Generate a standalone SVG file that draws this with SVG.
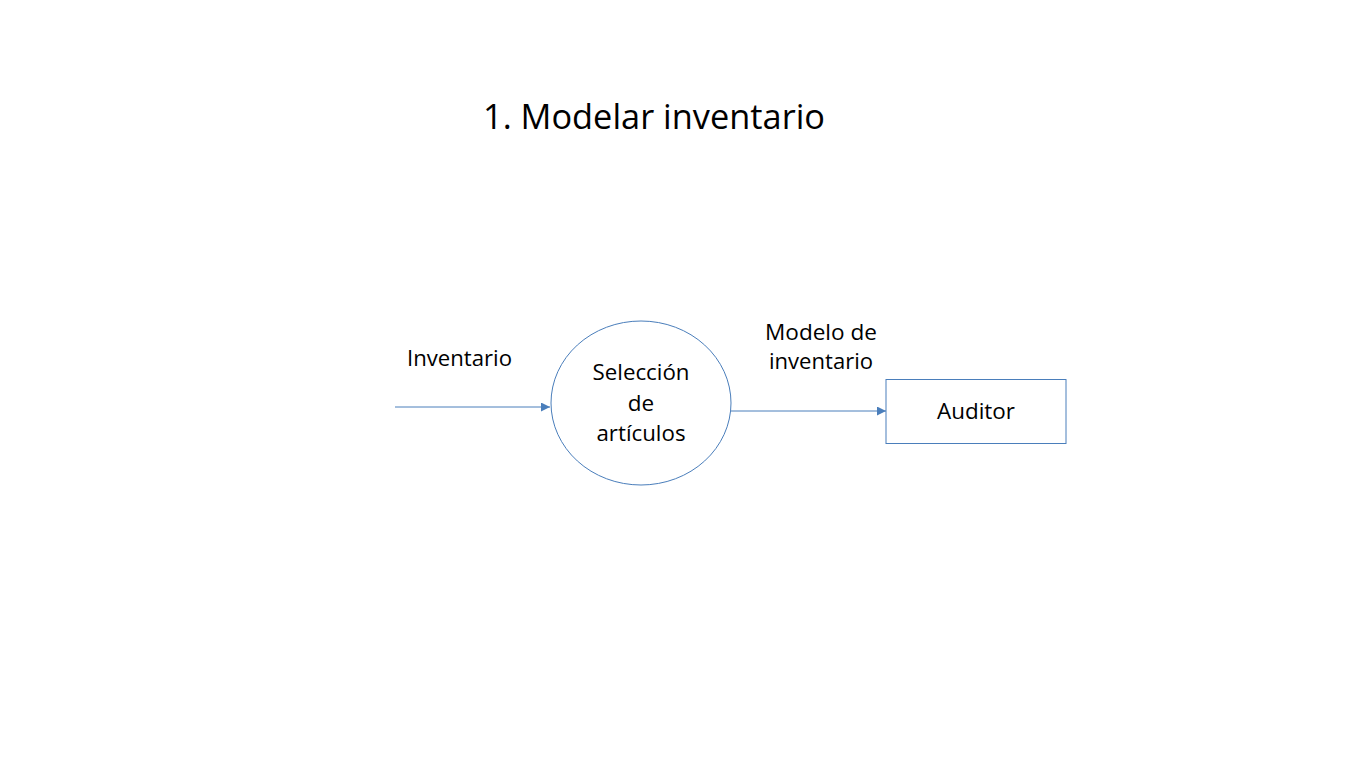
<svg xmlns="http://www.w3.org/2000/svg" width="1366" height="768" viewBox="0 0 1366 768">
<style>
text{font-family:"Open Sans","Liberation Sans",sans-serif;fill:#000}
.l{font-size:22.5px}
.c{text-anchor:middle}
.shape{fill:#fff;stroke:#4a7ebb;stroke-width:1}
.edge{stroke:#4a7ebb;stroke-width:1;fill:none}
</style>
<defs>
<marker id="ah" viewBox="0 0 10 10" refX="10" refY="5" markerWidth="9" markerHeight="9" markerUnits="userSpaceOnUse" orient="auto">
<path d="M0,0 L10,5 L0,10 z" fill="#4a7ebb"/>
</marker>
</defs>
<rect width="1366" height="768" fill="#fff"/>
<text x="483" y="129" style="font-size:34px" textLength="342" lengthAdjust="spacingAndGlyphs">1. Modelar inventario</text>
<g id="connectors">
<line class="edge" x1="395" y1="407" x2="550" y2="407" marker-end="url(#ah)"/>
<line class="edge" x1="731" y1="411" x2="886" y2="411" marker-end="url(#ah)"/>
<text class="l" x="407" y="366" textLength="105" lengthAdjust="spacingAndGlyphs">Inventario</text>
<text class="l c" x="821" y="340" textLength="112" lengthAdjust="spacingAndGlyphs">Modelo de</text>
<text class="l c" x="821" y="369" textLength="104" lengthAdjust="spacingAndGlyphs">inventario</text>
</g>
<g id="node-seleccion">
<ellipse class="shape" cx="641" cy="403" rx="90" ry="82"/>
<text class="l c" x="641" y="380" textLength="97" lengthAdjust="spacingAndGlyphs">Selección</text>
<text class="l c" x="641" y="411">de</text>
<text class="l c" x="641" y="441" textLength="89" lengthAdjust="spacingAndGlyphs">artículos</text>
</g>
<g id="node-auditor">
<rect class="shape" x="886" y="379.5" width="180" height="64"/>
<text class="l c" x="976" y="419" textLength="78" lengthAdjust="spacingAndGlyphs">Auditor</text>
</g>
</svg>
